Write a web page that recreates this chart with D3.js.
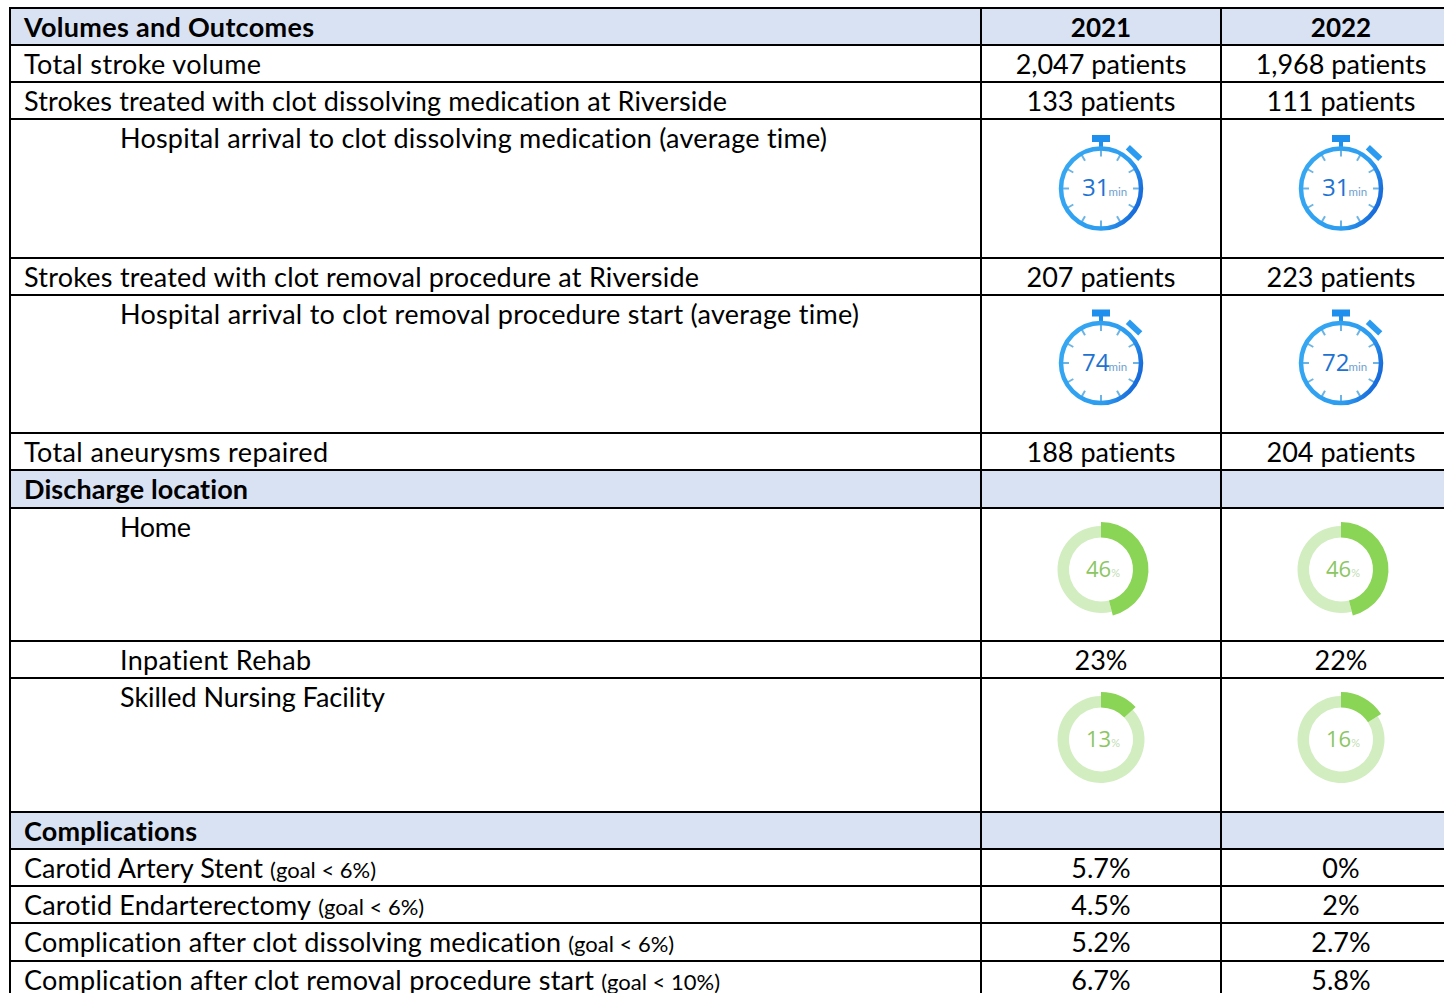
<!DOCTYPE html>
<html>
<head>
<meta charset="utf-8">
<script src="https://cdn.jsdelivr.net/npm/d3@7"></script>
<style>
  html, body { margin: 0; padding: 0; background: #fff; overflow: hidden; }
  text { font-family: Lato, "Open Sans", sans-serif; fill: #000; font-variant-ligatures: none; }
</style>
</head>
<body>
<svg id="chart"></svg>
<script>
// Table content
const rowLabels = [
  "Volumes and Outcomes",
  "Total stroke volume",
  "Strokes treated with clot dissolving medication at Riverside",
  "Hospital arrival to clot dissolving medication (average time)",
  "Strokes treated with clot removal procedure at Riverside",
  "Hospital arrival to clot removal procedure start (average time)",
  "Total aneurysms repaired",
  "Discharge location",
  "Home",
  "Inpatient Rehab",
  "Skilled Nursing Facility",
  "Complications",
  "Carotid Artery Stent",
  "Carotid Endarterectomy",
  "Complication after clot dissolving medication",
  "Complication after clot removal procedure start"
];
const rowKinds = ["head", "text", "text", "timer", "text", "timer", "text", "head", "donut", "subtext", "donut", "head", "text", "text", "text", "text"];
const goalNotes = ["", "", "", "", "", "", "", "", "", "", "", "", "(goal < 6%)", "(goal < 6%)", "(goal < 6%)", "(goal < 10%)"];
const years = ["2021", "2022"];
const values2021 = ["2021", "2,047 patients", "133 patients", 31, "207 patients", 74, "188 patients", "", 46, "23%", 13, "", "5.7%", "4.5%", "5.2%", "6.7%"];
const values2022 = ["2022", "1,968 patients", "111 patients", 31, "223 patients", 72, "204 patients", "", 46, "22%", 16, "", "0%", "2%", "2.7%", "5.8%"];
const valuesByYear = { "2021": values2021, "2022": values2022 };

// Layout
const rowEdges = [8, 45, 82, 119, 258, 295, 433, 470, 508, 641, 678, 812, 849, 886, 923, 961, 998];
const labelWidths = [290, 237, 703, 707, 675, 739, 304, 224, 71, 191, 265, 173, 239, 287, 537, 570];
const iconCenters = { 3: 188.5, 5: 363, 8: 569.5, 10: 739.5 };
const width = 1444, height = 993;
const fontSize = 27;

const svg = d3.select("#chart")
    .attr("width", width)
    .attr("height", height)
    .style("display", "block");

// Year columns are equal bands, the last one runs past the page edge
const x = d3.scaleBand().domain(years).range([981, 1461]);
const rowTop = d3.scaleOrdinal().domain(d3.range(rowEdges.length)).range(rowEdges);

const defs = svg.append("defs");
const grad = defs.append("linearGradient")
    .attr("id", "timerBlue")
    .attr("gradientUnits", "objectBoundingBox")
    .attr("x1", 0).attr("y1", 0.3).attr("x2", 1).attr("y2", 0.7);
grad.append("stop").attr("offset", "0%").attr("stop-color", "#35a7f2");
grad.append("stop").attr("offset", "70%").attr("stop-color", "#2c9cf0");
grad.append("stop").attr("offset", "100%").attr("stop-color", "#1565d8");

// Header band rows
svg.selectAll(".band")
    .data(d3.range(rowLabels.length).filter(i => rowKinds[i] === "head"))
  .enter().append("rect")
    .attr("class", "band")
    .attr("x", 10)
    .attr("y", i => rowTop(i))
    .attr("width", width - 10)
    .attr("height", i => rowTop(i + 1) - rowTop(i))
    .attr("fill", "#d9e2f3");

// Row labels
const labels = svg.selectAll(".label")
    .data(rowLabels)
  .enter().append("text")
    .attr("class", "label")
    .attr("x", (d, i) => ["timer", "donut", "subtext"].includes(rowKinds[i]) ? 120 : 24)
    .attr("y", (d, i) => rowTop(i) + 28.5)
    .style("font-size", fontSize + "px")
    .style("font-weight", (d, i) => rowKinds[i] === "head" ? 700 : 400);
labels.append("tspan")
    .attr("textLength", (d, i) => labelWidths[i])
    .attr("lengthAdjust", "spacing")
    .text(d => d);
labels.append("tspan")
    .attr("dx", 7)
    .style("font-size", "22px")
    .text((d, i) => goalNotes[i]);

// Text values and the gauge icons in both year columns
years.forEach(year => {
  const vals = valuesByYear[year];
  const cx = x(year) + x.bandwidth() / 2;

  svg.selectAll(".value-" + year)
      .data(d3.range(vals.length).filter(i => typeof vals[i] === "string" && vals[i] !== ""))
    .enter().append("text")
      .attr("class", "value-" + year)
      .attr("x", cx)
      .attr("y", i => rowTop(i) + 28.5)
      .attr("text-anchor", "middle")
      .style("font-size", i => (rowKinds[i] === "head" ? 26 : fontSize) + "px")
      .style("font-weight", i => rowKinds[i] === "head" ? 700 : 400)
      .text(i => vals[i]);

  vals.forEach((v, i) => {
    if (rowKinds[i] === "timer") drawTimer(cx, iconCenters[i], v);
    if (rowKinds[i] === "donut") drawDonut(cx, iconCenters[i], v);
  });
});

function drawTimer(cx, cy, minutes) {
  const g = svg.append("g").attr("transform", `translate(${cx},${cy})`);
  const r = 40;
  g.append("rect").attr("x", -9).attr("y", -53.5).attr("width", 18).attr("height", 7).attr("fill", "#1f8fee");
  g.append("rect").attr("x", -2).attr("y", -47).attr("width", 4).attr("height", 7).attr("fill", "#1f8fee");
  g.append("rect").attr("x", -8.5).attr("y", -51.5).attr("width", 17).attr("height", 6)
      .attr("fill", "#2a9bf0")
      .attr("transform", "rotate(43)");
  g.selectAll(".tick")
      .data(d3.range(12))
    .enter().append("line")
      .attr("y1", -r)
      .attr("y2", -r + 8)
      .attr("stroke", "#6db4e4")
      .attr("stroke-width", 2)
      .attr("transform", d => `rotate(${d * 30})`);
  g.append("circle").attr("r", r).attr("fill", "none")
      .attr("stroke", "url(#timerBlue)").attr("stroke-width", 4.5);
  const t = g.append("text").attr("x", -19).attr("y", 7.5);
  t.append("tspan")
      .style("font-size", "24px").style("font-family", "'Open Sans', sans-serif")
      .style("font-weight", 500).style("fill", "#1d72d2")
      .text(minutes);
  t.append("tspan")
      .attr("dx", -1)
      .style("font-size", "11.5px").style("fill", "#6f9fcf")
      .text("min");
}

function drawDonut(cx, cy, pct) {
  const g = svg.append("g").attr("transform", `translate(${cx},${cy})`);
  const slices = d3.pie().sort(null)([pct, 100 - pct]);
  g.append("path")
      .attr("fill", "#d2edc0")
      .attr("d", d3.arc().innerRadius(32).outerRadius(43.5)(slices[1]));
  g.append("path")
      .attr("fill", "#8ad456")
      .attr("d", d3.arc().innerRadius(32).outerRadius(47.5)(slices[0]));
  const t = g.append("text").attr("x", -15).attr("y", 7);
  t.append("tspan")
      .style("font-size", "22px").style("font-family", "'Open Sans', sans-serif")
      .style("font-weight", 500).style("fill", "#8cc663")
      .text(pct);
  t.append("tspan")
      .style("font-size", "11px").style("fill", "#c3dcb4")
      .text("%");
}

// Grid lines go last so they sit on the bands
svg.selectAll(".hline")
    .data(rowEdges.slice(0, -1))
  .enter().append("line")
    .attr("class", "hline")
    .attr("x1", 9).attr("x2", width)
    .attr("y1", d => d).attr("y2", d => d)
    .attr("stroke", "#000").attr("stroke-width", 2);
svg.selectAll(".vline")
    .data([10, x("2021"), x("2022")])
  .enter().append("line")
    .attr("class", "vline")
    .attr("x1", d => d).attr("x2", d => d)
    .attr("y1", 7).attr("y2", height)
    .attr("stroke", "#000").attr("stroke-width", 2);
</script>
</body>
</html>
